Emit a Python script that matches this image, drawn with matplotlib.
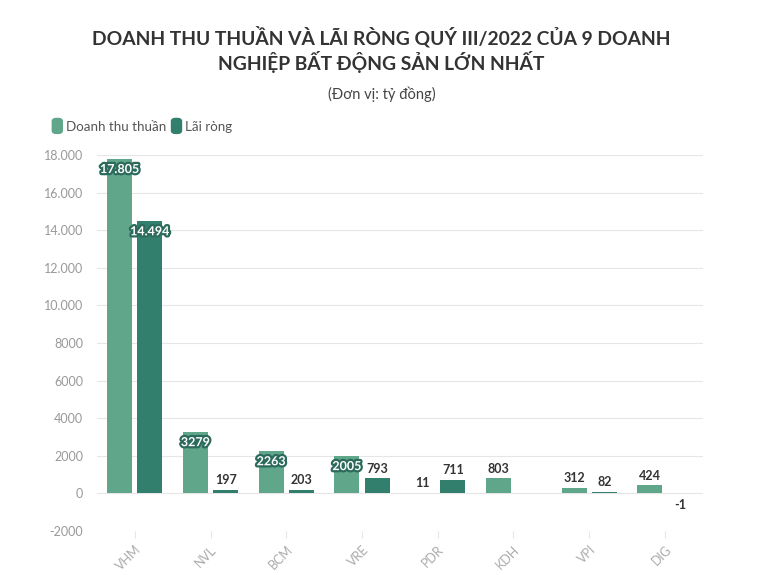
import numpy as np
import matplotlib.pyplot as plt
import matplotlib.patheffects as pe
from matplotlib.patches import FancyBboxPatch

#-------------------------------------------------
#                DATA
#-------------------------------------------------

companies = ['VHM', 'NVL', 'BCM', 'VRE', 'PDR', 'KDH', 'VPI', 'DIG']
revenue = [17805, 3279, 2263, 2005, 11, 803, 312, 424]          # Doanh thu thuần
net_profit = [14494, 197, 203, 793, 711, np.nan, 82, -1]       # Lãi ròng (KDH không có)
y_ticks = [-2000, 0, 2000, 4000, 6000, 8000, 10000, 12000, 14000, 16000, 18000]

#-------------------------------------------------
#                SETTINGS
#-------------------------------------------------

c_rev = '#5fa68a'
c_net = '#337f6e'
c_stroke = '#2c6b5b'
plt.rcParams['font.family'] = ['Lato', 'DejaVu Sans']


def fmt(v):
    # 4-digit numbers keep no separator, bigger ones use "."
    if abs(v) >= 10000:
        return '{:,.0f}'.format(v).replace(',', '.')
    return '{:.0f}'.format(v)


fig = plt.figure(figsize=(7.69, 5.75), dpi=100)
ax = fig.add_axes([0.126, 0.0765, 0.788, 0.654])

x = np.arange(len(companies))
w = 0.33
off = 0.2

ax.bar(x - off, revenue, w, color=c_rev, zorder=3)
ax.bar(x + off, net_profit, w, color=c_net, zorder=3)

# value labels
for xs, vals in [(x - off, revenue), (x + off, net_profit)]:
    for xi, v in zip(xs, vals):
        if np.isnan(v):
            continue
        if v >= 2000:
            t = ax.annotate(fmt(v), (xi, v), xytext=(0, -7.5), textcoords='offset points',
                            ha='center', va='center', color='white', fontsize=9,
                            fontweight='bold', zorder=5)
            t.set_path_effects([pe.withStroke(linewidth=3.2, foreground=c_stroke)])
        elif v >= 0:
            ax.annotate(fmt(v), (xi, v), xytext=(0, 7), textcoords='offset points',
                        ha='center', va='center', color='#333333', fontsize=9,
                        fontweight='bold', zorder=5)
        else:
            ax.annotate(fmt(v), (xi, 0), xytext=(0, -8), textcoords='offset points',
                        ha='center', va='center', color='#333333', fontsize=9,
                        fontweight='bold', zorder=5)

ax.set_xlim(-0.5, len(companies) - 0.5)
ax.set_ylim(-2000, 18000)
ax.set_yticks(y_ticks)
ax.set_yticklabels([fmt(t) for t in y_ticks])
ax.set_xticks(x)
ax.set_xticklabels(companies, rotation=45, ha='right', rotation_mode='anchor')

ax.grid(axis='y', color='#e6e6e6', linewidth=0.8, zorder=0)
for s in ax.spines.values():
    s.set_visible(False)
ax.tick_params(axis='y', length=0, pad=10, labelsize=9, labelcolor='#999999')
ax.tick_params(axis='x', length=5, color='#e6e6e6', pad=4, labelsize=9, labelcolor='#aaaaaa')

#-------------------------------------------------
#                TITLE & LEGEND
#-------------------------------------------------

fig.text(0.496, 0.9357, 'DOANH THU THUẦN VÀ LÃI RÒNG QUÝ III/2022 CỦA 9 DOANH',
         ha='center', va='center', fontsize=13.9, fontweight='bold', color='#333333')
fig.text(0.496, 0.892, 'NGHIỆP BẤT ĐỘNG SẢN LỚN NHẤT',
         ha='center', va='center', fontsize=13.9, fontweight='bold', color='#333333')
fig.text(0.496, 0.836, '(Đơn vị: tỷ đồng)', ha='center', va='center', fontsize=10.5, color='#444444')

for x0, col, txt in [(0.068, c_rev, 'Doanh thu thuần'), (0.223, c_net, 'Lãi ròng')]:
    fig.patches.append(FancyBboxPatch((x0, 0.768), 0.013, 0.026, boxstyle='round,pad=0,rounding_size=0.005',
                                      transform=fig.transFigure, color=col, figure=fig))
    fig.text(x0 + 0.018, 0.779, txt, ha='left', va='center', fontsize=9.6, color='#555555')

plt.savefig('out.png', dpi=100)
